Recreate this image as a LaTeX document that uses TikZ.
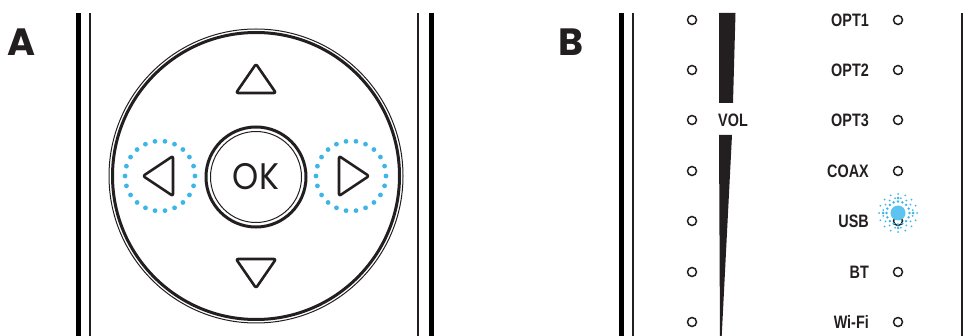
\documentclass[tikz,border=0pt]{standalone}
\usepackage{fontspec}
\usetikzlibrary{calc}
\newfontfamily\pop{Poppins}
\newfontfamily\lbl{Liberation Sans Bold}[FakeStretch=0.8]
\definecolor{ink}{HTML}{231F20}
\definecolor{ledblue}{HTML}{3DB5E8}
\definecolor{glow}{HTML}{5CC4EF}
\tikzset{
  panelthick/.style={line width=5pt, draw=black},
  panelthin/.style={line width=1.4pt, draw=ink},
  arrowtri/.style={draw=ink, line width=2.6pt, rounded corners=2pt, line join=round},
  led/.style={circle, draw=ink, line width=1.5pt, minimum size=9pt, inner sep=0pt},
  lbltext/.style={font=\lbl\fontsize{18}{18}\selectfont, text=ink, inner sep=0pt, anchor=east},
  bluedot/.style={fill=ledblue, draw=none},
  paneltag/.style={font=\pop\bfseries\fontsize{38}{38}\selectfont, text=ink, inner sep=0pt}
}
\begin{document}
\begin{tikzpicture}[x=1pt, y=-1pt]
\useasboundingbox (0,0) rectangle (971,336);
% ---------------- Panel A ----------------
\node[paneltag] (tagA) at (22,42) {A};
\draw[panelthick] (78,13) -- (78,336);
\draw[panelthin] (90,13) -- (90,336);
\draw[panelthin] (418,13) -- (418,336);
\draw[panelthick] (431,13) -- (431,336);
% pad
\draw[ink, line width=1pt] (256,176) circle (147);
\draw[ink, line width=3pt] (256,176) circle (143.5);
\draw[ink, line width=3pt] (256,177) circle (50);
\draw[ink, line width=1pt] (256,177) circle (45.5);
\node[font=\pop\fontsize{37}{37}\selectfont, text=ink, inner sep=0pt, xscale=0.9] (ok) at (256,177) {OK};
% arrows
\draw[arrowtri] (256,64) -- (276,93) -- (236,93) -- cycle;
\draw[arrowtri] (256,288) -- (276,259) -- (236,259) -- cycle;
\draw[arrowtri] (143,176) -- (173,156) -- (173,196) -- cycle;
\draw[arrowtri] (369,176) -- (339,156) -- (339,196) -- cycle;
\coordinate (lefthl) at (160,176);
\coordinate (righthl) at (351,176);
\foreach \a in {0,16.36,...,350} {
  \fill[bluedot] ($(lefthl)+(\a:35)$) circle (2.4);
  \fill[bluedot] ($(righthl)+(\a:35)$) circle (2.4);
}
% ---------------- Panel B ----------------
\node[paneltag] (tagB) at (571,42) {B};
\draw[panelthick] (621,13) -- (621,336);
\draw[panelthin] (633,13) -- (633,336);
\draw[panelthin] (962,13) -- (962,336);
\begin{scope}
\clip (600,13) rectangle (971,336);
\fill[ink] (719,13) -- (735.5,13) -- (733,103) -- (719,103) -- cycle;
\fill[ink] (719,135) -- (732,135) -- (721.5,340) -- (720,340) -- cycle;
\node[lbltext, anchor=west] (vol) at (718,120) {VOL};
\foreach \y [count=\i] in {20,70,120,171,221,272,322} {
  \node[led] (l\i) at (692,\y) {};
  \node[led] (r\i) at (898,\y) {};
}
\node[lbltext] (t1) at (869,20) {OPT1};
\node[lbltext] (t2) at (869,70) {OPT2};
\node[lbltext] (t3) at (869,120) {OPT3};
\node[lbltext] (t4) at (869,171) {COAX};
\node[lbltext] (t5) at (869,221) {USB};
\node[lbltext] (t6) at (869,272) {BT};
\node[lbltext] (t7) at (869,322) {Wi-Fi};
\end{scope}
% glowing USB LED
\coordinate (usbglow) at (898,213);
\foreach \a in {0,22.5,...,337.5} {
  \fill[bluedot] ($(usbglow)+(\a:11.5)$) circle (1.3);
  \fill[bluedot] ($(usbglow)+(\a+11.25:15)$) circle (1.0);
  \fill[bluedot] ($(usbglow)+(\a:19)$) circle (1.0);
}
\foreach \a in {0,90,180,270} {
  \fill[bluedot] ($(usbglow)+(\a:15)$) circle (1.5);
}
\fill[glow] (usbglow) circle (7.5);
\end{tikzpicture}
\end{document}
